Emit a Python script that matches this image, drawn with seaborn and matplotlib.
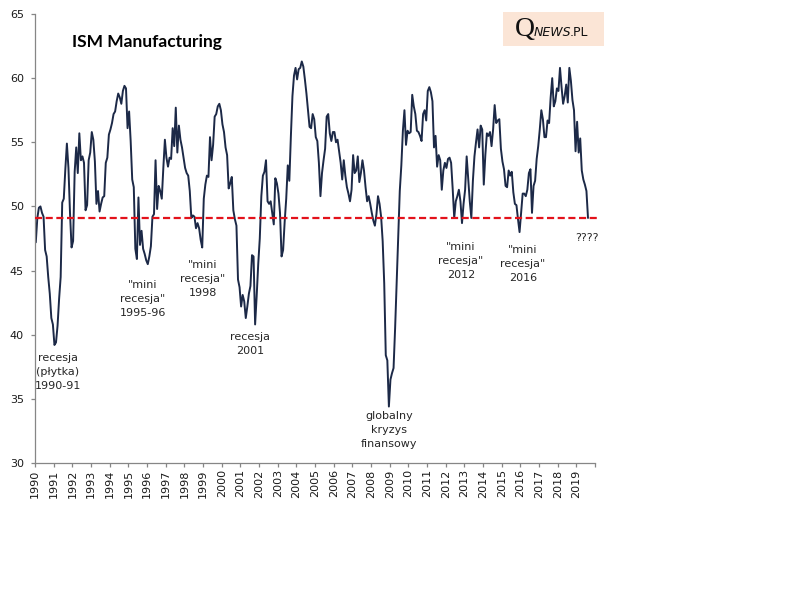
import numpy as np
import pandas as pd
import matplotlib
matplotlib.use("Agg")
import matplotlib.pyplot as plt
import seaborn as sns
from matplotlib.patches import Rectangle

# ---------------- data (monthly ISM Manufacturing PMI, Jan 1990 - Aug 2019) -------------
years = list(range(1990, 2020))
ism_1990 = [47.2, 49.1, 49.9, 50.0, 49.5, 49.2, 46.6, 46.1, 44.5, 43.2, 41.3, 40.8]
ism_1991 = [39.2, 39.4, 40.7, 42.8, 44.5, 50.3, 50.6, 52.9, 54.9, 53.0, 49.5, 46.8]
ism_1992 = [47.3, 52.7, 54.6, 52.6, 55.7, 53.6, 53.9, 53.4, 49.7, 50.1, 53.6, 54.2]
ism_1993 = [55.8, 55.2, 53.5, 50.2, 51.2, 49.6, 50.2, 50.7, 50.8, 53.4, 53.8, 55.6]
ism_1994 = [56.0, 56.5, 57.2, 57.4, 58.2, 58.8, 58.5, 58.0, 59.0, 59.4, 59.2, 56.1]
ism_1995 = [57.4, 55.1, 52.1, 51.5, 46.7, 45.9, 50.7, 47.0, 48.1, 46.7, 46.3, 45.8]
ism_1996 = [45.5, 46.1, 46.9, 49.2, 49.4, 53.6, 49.8, 51.6, 51.2, 50.6, 53.0, 55.2]
ism_1997 = [53.8, 53.1, 53.8, 53.7, 56.1, 54.7, 57.7, 54.2, 56.3, 55.2, 54.6, 53.8]
ism_1998 = [53.0, 52.6, 52.4, 51.2, 49.1, 49.3, 49.2, 48.3, 48.7, 48.3, 47.4, 46.8]
ism_1999 = [50.6, 51.7, 52.4, 52.3, 55.4, 53.6, 54.8, 57.0, 57.2, 57.8, 58.0, 57.5]
ism_2000 = [56.4, 55.8, 54.6, 54.0, 51.4, 51.8, 52.3, 49.7, 49.0, 48.5, 44.3, 43.7]
ism_2001 = [42.2, 43.1, 42.6, 41.3, 42.2, 43.2, 43.8, 46.2, 46.1, 40.8, 43.0, 45.5]
ism_2002 = [47.5, 50.8, 52.4, 52.7, 53.6, 50.4, 50.2, 50.4, 49.5, 48.6, 52.2, 51.8]
ism_2003 = [51.0, 49.5, 46.1, 46.6, 48.8, 50.6, 53.2, 52.0, 55.5, 58.6, 60.2, 60.8]
ism_2004 = [59.9, 60.7, 60.8, 61.3, 60.9, 59.9, 58.8, 57.5, 56.2, 56.1, 57.2, 56.8]
ism_2005 = [55.4, 55.1, 53.4, 50.8, 52.6, 53.6, 54.5, 57.0, 57.2, 55.7, 55.1, 55.8]
ism_2006 = [55.8, 55.0, 55.2, 54.3, 53.4, 52.1, 53.6, 52.4, 51.5, 51.0, 50.4, 51.3]
ism_2007 = [54.0, 52.6, 52.8, 53.9, 51.9, 52.6, 53.6, 52.8, 51.5, 50.4, 50.8, 50.2]
ism_2008 = [49.5, 48.9, 48.5, 49.4, 50.8, 50.2, 49.2, 47.3, 44.0, 38.4, 38.0, 34.4]
ism_2009 = [36.5, 37.0, 37.4, 40.5, 44.0, 47.5, 51.2, 53.2, 55.9, 57.5, 54.8, 55.9]
ism_2010 = [55.7, 55.8, 58.7, 57.8, 57.2, 55.9, 55.8, 55.5, 55.1, 57.2, 57.5, 56.7]
ism_2011 = [59.0, 59.3, 58.9, 58.2, 54.6, 55.5, 53.1, 54.0, 53.6, 51.3, 52.8, 53.4]
ism_2012 = [53.0, 53.7, 53.8, 53.4, 51.4, 49.1, 50.4, 50.8, 51.3, 50.4, 48.7, 50.2]
ism_2013 = [51.3, 53.9, 52.2, 50.4, 49.1, 52.0, 53.9, 55.0, 56.0, 54.6, 56.3, 56.0]
ism_2014 = [51.7, 54.0, 55.7, 55.5, 55.8, 54.7, 56.0, 57.9, 56.5, 56.7, 56.8, 54.5]
ism_2015 = [53.5, 52.9, 51.6, 51.5, 52.8, 52.4, 52.7, 51.1, 50.2, 50.1, 49.0, 48.0]
ism_2016 = [49.5, 51.0, 51.0, 50.8, 51.3, 52.6, 52.9, 49.5, 51.6, 52.0, 53.7, 54.7]
ism_2017 = [56.0, 57.5, 56.8, 55.4, 55.4, 56.7, 56.5, 58.5, 60.0, 57.8, 58.2, 59.2]
ism_2018 = [59.0, 60.8, 59.3, 58.0, 58.6, 59.5, 58.1, 60.8, 59.8, 58.3, 57.5, 54.3]
ism_2019 = [56.6, 54.2, 55.3, 52.8, 52.1, 51.7, 51.2, 49.1]

threshold = 49.1
title_text = "ISM Manufacturing"
year_labels = [str(y) for y in years]
notes = [
    "recesja\n(płytka)\n1990-91",
    "\"mini\nrecesja\"\n1995-96",
    "\"mini\nrecesja\"\n1998",
    "recesja\n2001",
    "globalny\nkryzys\nfinansowy",
    "\"mini\nrecesja\"\n2012",
    "\"mini\nrecesja\"\n2016",
    "????",
]

series = (ism_1990 + ism_1991 + ism_1992 + ism_1993 + ism_1994 + ism_1995 + ism_1996
          + ism_1997 + ism_1998 + ism_1999 + ism_2000 + ism_2001 + ism_2002 + ism_2003
          + ism_2004 + ism_2005 + ism_2006 + ism_2007 + ism_2008 + ism_2009 + ism_2010
          + ism_2011 + ism_2012 + ism_2013 + ism_2014 + ism_2015 + ism_2016 + ism_2017
          + ism_2018 + ism_2019)
df = pd.DataFrame({"month": np.arange(len(series)) + 0.5, "ism": series})
n_categories = 12 * len(years)

# ---------------- drawing ----------------
sns.set_style("white")
plt.rcParams["font.family"] = ["DejaVu Sans"]

W, H = 800, 600
fig = plt.figure(figsize=(8, 6), dpi=100)
fig.patch.set_facecolor("white")

def fx(px):
    return px / W

def fy(py):
    return 1 - py / H

ax = fig.add_axes([fx(35), fy(463), (595 - 35) / W, (463 - 14) / H])

sns.lineplot(data=df, x="month", y="ism", ax=ax, color="#1c2947", linewidth=1.4)
ax.axhline(threshold, xmin=0, xmax=1.009, color="#e3121b", linewidth=1.6,
           dashes=(3.2, 1.6), clip_on=False, zorder=3)

ax.set_xlim(0, n_categories)
ax.set_ylim(30, 65)
ax.set_xticks(np.arange(0, n_categories + 1, 12))
ax.set_xticklabels(year_labels + [""], rotation=90, fontsize=8)
ax.set_yticks(np.arange(30, 66, 5))
ax.set_yticklabels([str(v) for v in range(30, 66, 5)], fontsize=8)
ax.set_xlabel("")
ax.set_ylabel("")

for side in ["top", "right"]:
    ax.spines[side].set_visible(False)
for side in ["left", "bottom"]:
    ax.spines[side].set_color("#868686")
    ax.spines[side].set_linewidth(0.9)
ax.tick_params(axis="y", direction="out", length=3, width=0.9, color="#868686",
               pad=5, labelcolor="#1a1a1a", left=True)
ax.tick_params(axis="x", direction="out", length=3, width=0.9, color="#868686",
               pad=1.5, labelcolor="#1a1a1a", bottom=True)
ax.grid(False)

# title
fig.text(fx(72), fy(42), title_text, ha="left", va="center", fontsize=12.5,
         fontweight="bold", family=["Lato", "DejaVu Sans"], color="black")

# logo box
fig.patches.append(Rectangle((fx(503), fy(45.5)), (604 - 503) / W, (45.5 - 12.5) / H,
                             transform=fig.transFigure, facecolor="#fbe5d6",
                             edgecolor="none", zorder=1))
fig.text(fx(515), fy(36.5), "Q", ha="left", va="baseline", fontsize=20,
         family=["Liberation Serif", "DejaVu Serif"], color="#111111", zorder=2)
fig.text(fx(534), fy(36.5), "NEWS", ha="left", va="baseline", fontsize=9,
         style="italic", family=["DejaVu Sans"], color="#111111", zorder=2)
fig.text(fx(570), fy(36.5), ".PL", ha="left", va="baseline", fontsize=9,
         family=["DejaVu Sans"], color="#111111", zorder=2)

# annotations (pixel anchor: centre x, centre y)
note_pos = [(58, 372), (143, 299), (203, 279), (250, 344), (389, 430),
            (461, 261), (523, 264), (587, 238)]
for txt, (px, py) in zip(notes, note_pos):
    fig.text(fx(px), fy(py), txt, ha="center", va="center", fontsize=8,
             linespacing=1.45, color="#262626", multialignment="center")

fig.savefig("out.png", dpi=100, facecolor="white")
